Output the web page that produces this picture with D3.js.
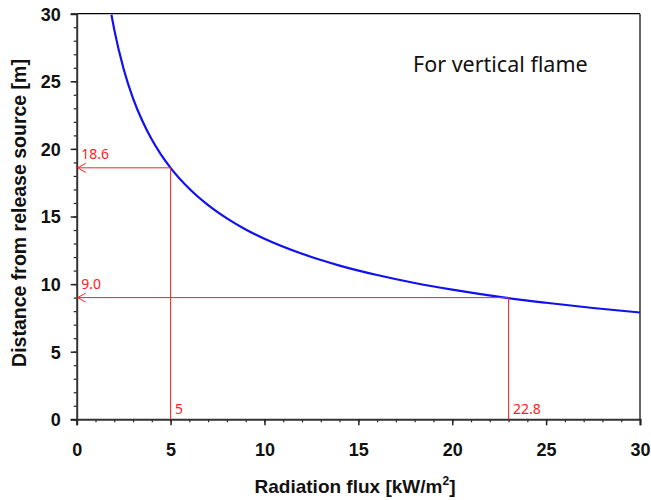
<!DOCTYPE html>
<html><head><meta charset="utf-8">
<script src="https://cdn.jsdelivr.net/npm/d3@7"></script>
<style>body{margin:0;background:#fff}svg{display:block}</style>
</head><body>
<svg id="c" width="651" height="500"></svg>
<script>
const fluxValues = [1.85, 2, 2.5, 3, 3.5, 4, 4.5, 5, 6, 7, 8, 9, 10, 12, 14, 16, 18, 20, 22.8, 25, 27.5, 30];
const distanceValues = [29.92, 28.82, 25.91, 23.74, 22.06, 20.69, 19.56, 18.6, 17.05, 15.84, 14.86, 14.04, 13.35, 12.24, 11.37, 10.67, 10.08, 9.59, 9.0, 8.62, 8.23, 7.9];
const refFlux = [5, 23.0];
const refDistance = [18.6, 9.0];
const refFluxLabels = ["5", "22.8"];
const refDistanceLabels = ["18.6", "9.0"];
const xTicks = [0, 5, 10, 15, 20, 25, 30];
const yTicks = [0, 5, 10, 15, 20, 25, 30];
const noteText = "For vertical flame";

const svg = d3.select("#c");
const L = 76.7, R = 640, T = 13.7, B = 419.3;
const x = d3.scaleLinear().domain([0, 30]).range([L, R]);
const y = d3.scaleLinear().domain([0, 30]).range([B, T]);
const boldFont = "Liberation Sans, Arial, sans-serif";

// frame top/right
svg.append("line").attr("x1", L).attr("x2", R).attr("y1", T).attr("y2", T).attr("stroke", "#000").attr("stroke-width", 1.2);
svg.append("line").attr("x1", R).attr("x2", R).attr("y1", T).attr("y2", B).attr("stroke", "#000").attr("stroke-width", 1.2);

const minorX = d3.range(0, 31, 1), minorY = d3.range(0, 31, 1);
const gx = svg.append("g").attr("transform", `translate(0,${B})`);
gx.call(d3.axisBottom(x).tickValues(minorX).tickSize(3).tickFormat(""));
gx.selectAll(".tick line").attr("stroke", "#222").attr("stroke-width", 1.2);
gx.select(".domain").remove();
const gx2 = svg.append("g").attr("transform", `translate(0,${B})`)
  .call(d3.axisBottom(x).tickValues(xTicks).tickSize(6).tickPadding(18).tickFormat(d3.format("d")));
gx2.selectAll(".tick line").attr("stroke", "#222").attr("stroke-width", 1.5);
gx2.select(".domain").attr("stroke", "#333").attr("stroke-width", 2);
gx2.selectAll("text").attr("font-family", boldFont).attr("font-weight", "bold").attr("font-size", 18).attr("fill", "#111");

const gy = svg.append("g").attr("transform", `translate(${L},0)`);
gy.call(d3.axisLeft(y).tickValues(minorY).tickSize(3).tickFormat(""));
gy.selectAll(".tick line").attr("stroke", "#222").attr("stroke-width", 1.2);
gy.select(".domain").remove();
const gy2 = svg.append("g").attr("transform", `translate(${L},0)`)
  .call(d3.axisLeft(y).tickValues(yTicks).tickSize(6).tickPadding(10).tickFormat(d3.format("d")));
gy2.selectAll(".tick line").attr("stroke", "#222").attr("stroke-width", 1.5);
gy2.select(".domain").attr("stroke", "#333").attr("stroke-width", 2);
gy2.selectAll("text").attr("font-family", boldFont).attr("font-weight", "bold").attr("font-size", 18).attr("fill", "#111").attr("dy", "0.36em");

// curve
const pts = fluxValues.map((f, i) => [f, distanceValues[i]]);
svg.append("path").datum(pts)
  .attr("d", d3.line().x(d => x(d[0])).y(d => y(d[1])).curve(d3.curveMonotoneX))
  .attr("fill", "none").attr("stroke", "#1010f0").attr("stroke-width", 2.2);

// reference lines
const red = "#ff2020";
refFlux.forEach((f, i) => {
  const d = refDistance[i];
  svg.append("line").attr("x1", x(f)).attr("x2", x(f)).attr("y1", y(d)).attr("y2", B).attr("stroke", red).attr("stroke-width", 1);
  svg.append("line").attr("x1", x(f)).attr("x2", L + 1).attr("y1", y(d)).attr("y2", y(d)).attr("stroke", red).attr("stroke-width", 1);
  svg.append("path").attr("d", `M${L + 9},${y(d) - 4.5}L${L + 1},${y(d)}L${L + 9},${y(d) + 4.5}`)
    .attr("fill", "none").attr("stroke", red).attr("stroke-width", 1);
  svg.append("text").attr("x", L + 4.5).attr("y", y(d) - 8.5).text(refDistanceLabels[i])
    .attr("font-family", "Noto Sans, sans-serif").attr("font-size", 14).attr("fill", red);
  svg.append("text").attr("x", x(f) + 4.5).attr("y", B - 5).text(refFluxLabels[i])
    .attr("font-family", "Noto Sans, sans-serif").attr("font-size", 14).attr("fill", red);
});

svg.append("text").attr("x", 413).attr("y", 72).text(noteText)
  .attr("font-family", "Noto Sans, sans-serif").attr("font-size", 21.5).attr("fill", "#111");

// axis titles
const xt = svg.append("text").attr("x", 355).attr("y", 493).attr("text-anchor", "middle")
  .attr("font-family", boldFont).attr("font-weight", "bold").attr("font-size", 19).attr("fill", "#111");
xt.append("tspan").text("Radiation flux [kW/m");
xt.append("tspan").text("2").attr("font-size", 12).attr("dy", -8);
xt.append("tspan").text("]").attr("dy", 8);

svg.append("text").attr("transform", `translate(26,213) rotate(-90)`).attr("text-anchor", "middle")
  .attr("font-family", boldFont).attr("font-weight", "bold").attr("font-size", 19.5).attr("fill", "#111")
  .text("Distance from release source [m]");
</script>
</body></html>
